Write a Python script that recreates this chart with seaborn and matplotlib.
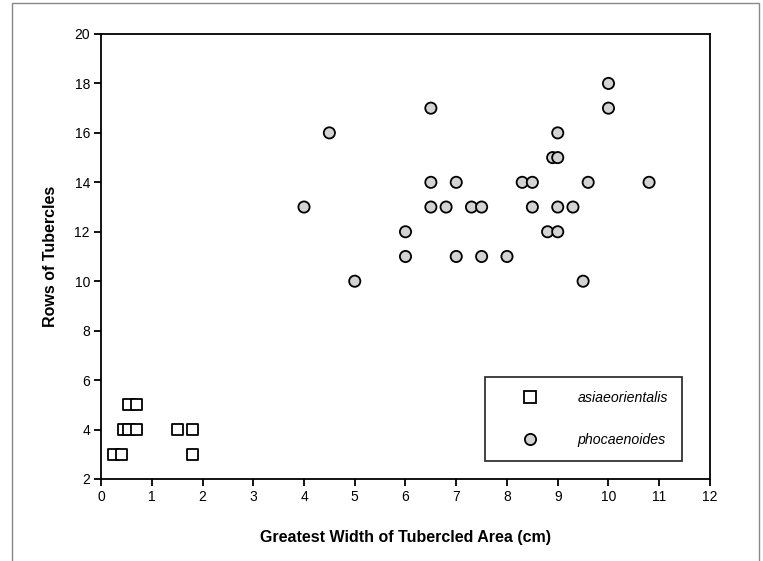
import matplotlib
matplotlib.use("Agg")
import matplotlib.pyplot as plt
from matplotlib.patches import Rectangle
import seaborn as sns
import pandas as pd

# asiaeorientalis (squares)
asia_width = [0.25, 0.4, 1.8, 0.45, 0.55, 0.7, 1.5, 1.8, 0.55, 0.7]
asia_rows = [3, 3, 3, 4, 4, 4, 4, 4, 5, 5]

# phocaenoides (circles)
phoc_width = [4.0, 4.5, 5.0, 6.0, 6.0, 6.5, 6.5, 6.5, 6.8, 7.0,
              7.0, 7.3, 7.5, 7.5, 8.0, 8.3, 8.5, 8.5, 8.8, 8.9,
              9.0, 9.0, 9.0, 9.0, 9.3, 9.5, 9.6, 10.0, 10.0, 10.8]
phoc_rows = [13, 16, 10, 11, 12, 13, 14, 17, 13, 11,
             14, 13, 11, 13, 11, 14, 13, 14, 12, 15,
             12, 13, 15, 16, 13, 10, 14, 17, 18, 14]

species = ["asiaeorientalis", "phocaenoides"]

df = pd.DataFrame({
    "width": asia_width + phoc_width,
    "rows": asia_rows + phoc_rows,
    "species": [species[0]] * len(asia_width) + [species[1]] * len(phoc_width),
})

sns.set_style("white")
plt.rcParams["font.family"] = ["Liberation Sans", "DejaVu Sans"]
plt.rcParams["text.color"] = "black"
plt.rcParams["axes.labelcolor"] = "black"
plt.rcParams["xtick.color"] = "black"
plt.rcParams["ytick.color"] = "black"

fig = plt.figure(figsize=(7.63, 5.61), dpi=100)
ax = fig.add_axes([0.1324, 0.1462, 0.7981, 0.7932])

sns.scatterplot(data=df, x="width", y="rows", hue="species", style="species",
                palette={species[0]: "white", species[1]: "#d3d3d3"},
                markers={species[0]: "s", species[1]: "o"},
                s=65, edgecolor="black", linewidth=1.3, ax=ax, zorder=3)

ax.set_xlim(0, 12)
ax.set_ylim(2, 20)
ax.set_xticks(range(0, 13))
ax.set_yticks(range(2, 21, 2))
for sp in ax.spines.values():
    sp.set_color("black")
    sp.set_linewidth(1.3)
ax.tick_params(direction="out", length=5, width=1.3, color="black",
               labelsize=10, labelcolor="black", pad=3, bottom=True, left=True)

ax.set_xlabel("Greatest Width of Tubercled Area (cm)", fontsize=11.5,
              fontweight="bold", labelpad=19)
ax.set_ylabel("Rows of Tubercles", fontsize=11.5, fontweight="bold", labelpad=12)

handles, labels = ax.get_legend_handles_labels()
leg = ax.legend(handles, labels, loc="lower left", bbox_to_anchor=(0.63, 0.04),
                frameon=True, fancybox=False, borderpad=1.0,
                labelspacing=1.95, handlelength=4.4, handletextpad=1.15,
                borderaxespad=0, prop={"style": "italic", "size": 10.2})
leg.get_frame().set_edgecolor("black")
leg.get_frame().set_linewidth(1.3)

# grey frame around the picture
fig.patches.append(Rectangle((12 / 763, -0.05), 747 / 763, 1.05 - 3 / 561,
                             transform=fig.transFigure, fill=False,
                             edgecolor="#888888", linewidth=1))

fig.savefig("out.png", dpi=100)
